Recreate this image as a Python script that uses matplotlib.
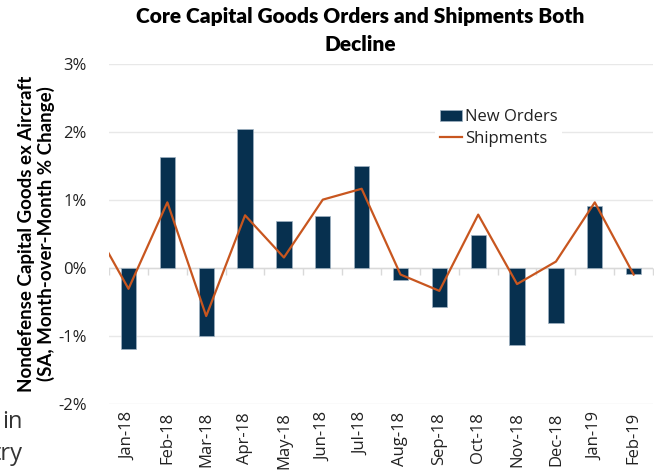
import numpy as np
import matplotlib
matplotlib.use("Agg")
import matplotlib.pyplot as plt
from matplotlib.ticker import FuncFormatter

months = ["Jan-18", "Feb-18", "Mar-18", "Apr-18", "May-18", "Jun-18", "Jul-18",
          "Aug-18", "Sep-18", "Oct-18", "Nov-18", "Dec-18", "Jan-19", "Feb-19"]
new_orders = [-1.19, 1.62, -1.00, 2.04, 0.69, 0.76, 1.49,
              -0.18, -0.58, 0.48, -1.13, -0.81, 0.91, -0.09]
# Dec-17 shipments value, line enters from outside the plot on the left
shipments_prev = 0.71
shipments = [-0.31, 0.96, -0.71, 0.77, 0.15, 1.00, 1.16,
             -0.10, -0.34, 0.78, -0.24, 0.09, 0.96, -0.10]

bar_col = "#07304f"
line_col = "#c8561f"
grid_col = "#e8e8e8"

plt.rcParams["font.family"] = ["Open Sans", "DejaVu Sans"]

fig = plt.figure(figsize=(6.61, 4.74), dpi=100)
ax = fig.add_axes([0.165, 0.148, 0.823, 0.718])

x = np.arange(len(months))
bars = ax.bar(x, new_orders, width=0.39, color=bar_col, edgecolor="#9fb2c2",
              linewidth=0.5, label="New Orders", zorder=3)
line, = ax.plot(np.concatenate([[-1], x]), [shipments_prev] + shipments,
                color=line_col, lw=1.6, label="Shipments", zorder=4)

ax.set_xlim(-0.5, len(months) - 0.5)
ax.set_ylim(-2, 3)
ax.set_yticks([-2, -1, 0, 1, 2, 3])
ax.yaxis.set_major_formatter(FuncFormatter(lambda v, p: "%d%%" % v))
ax.grid(axis="y", color=grid_col, lw=1, zorder=0)
for s in ax.spines.values():
    s.set_visible(False)

# zero axis with tick marks between categories
ax.axhline(0, color="#d9d9d9", lw=1, zorder=2)
ax.plot(np.arange(len(months) + 1) - 0.5, np.zeros(len(months) + 1),
        ls="none", marker=3, ms=5, mew=1, color="#d9d9d9", zorder=2)

ax.set_xticks(x)
ax.set_xticklabels(months, rotation=90)
ax.tick_params(axis="both", length=0, labelsize=12, labelcolor="#222222")
ax.tick_params(axis="x", pad=6)
ax.tick_params(axis="y", pad=16)

ax.set_ylabel("Nondefense Capital Goods ex Aircraft\n(SA, Month-over-Month % Change)",
              fontsize=13.5, fontweight="bold", family=["Lato", "DejaVu Sans"],
              labelpad=2, linespacing=1.15)

fig.text(0.545, 0.985, "Core Capital Goods Orders and Shipments Both\nDecline",
         ha="center", va="top", fontsize=15, fontweight="heavy",
         family=["Lato", "DejaVu Sans"], linespacing=1.55)

leg = ax.legend([bars, line], ["New Orders", "Shipments"],
                loc="upper left", bbox_to_anchor=(0.6, 0.88), fontsize=12,
                frameon=True, facecolor="white", edgecolor="none", framealpha=1,
                handlelength=1.3, handletextpad=0.15, borderpad=0.3,
                labelspacing=0.35, borderaxespad=0)
for t in leg.get_texts():
    t.set_color("#222222")

# clipped text from neighbouring page content
fig.text(0.034, 0.097, "in", ha="right", va="baseline", fontsize=17, color="#333333")
fig.text(0.034, 0.030, "try", ha="right", va="baseline", fontsize=17, color="#333333")

fig.savefig("out.png", dpi=100)
